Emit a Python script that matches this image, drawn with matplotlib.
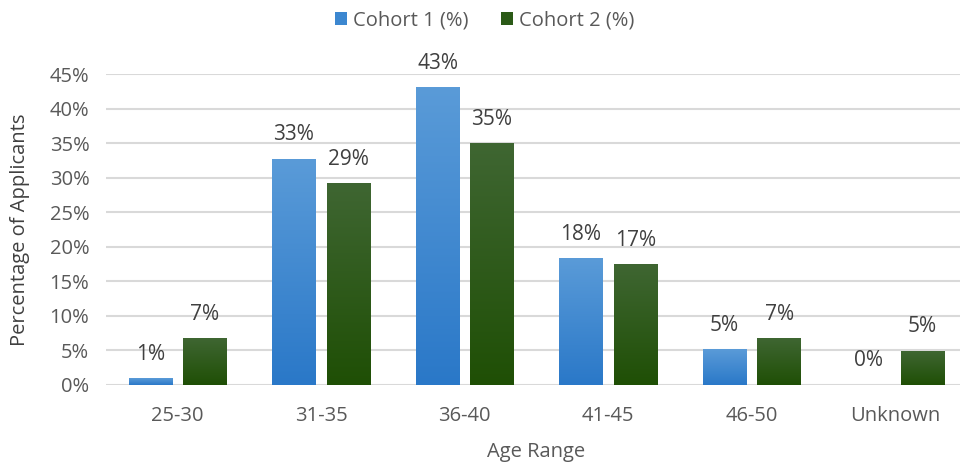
import numpy as np
import matplotlib.pyplot as plt
from matplotlib.colors import LinearSegmentedColormap
from matplotlib.patches import Patch

categories = ['25-30', '31-35', '36-40', '41-45', '46-50', 'Unknown']
cohort1 = [0.9, 32.7, 43.0, 18.3, 5.1, 0.0]
cohort2 = [6.7, 29.1, 34.9, 17.4, 6.7, 4.9]

plt.rcParams['font.family'] = ['Open Sans', 'DejaVu Sans']
text_color = '#595959'

blue_cmap = LinearSegmentedColormap.from_list('blue', ['#2a78c8', '#5a9bd8'])
green_cmap = LinearSegmentedColormap.from_list('green', ['#1f4f05', '#3f6632'])

fig = plt.figure(figsize=(9.6, 4.62), dpi=100)
ax = fig.add_axes([0.1104, 0.1667, 0.897, 0.6731])

x = np.arange(len(categories))
w = 0.306
off = 0.19
grad = np.linspace(0, 1, 256).reshape(-1, 1)

for vals, shift, cmap in [(cohort1, -off, blue_cmap), (cohort2, off, green_cmap)]:
    bars = ax.bar(x + shift, vals, width=w, color='none', edgecolor='none', zorder=3)
    for b, v in zip(bars, vals):
        if v > 0:
            x0 = b.get_x()
            ax.imshow(grad, extent=[x0, x0 + w, 0, v], origin='lower', aspect='auto',
                      cmap=cmap, zorder=3)
        ax.text(b.get_x() + w / 2, v + 3.5, f'{round(v):.0f}%', ha='center', va='center',
                fontsize=15, color='#404040')

ax.set_xlim(-0.5, len(categories) - 0.5)
ax.set_ylim(0, 45)
ax.set_yticks(np.arange(0, 46, 5))
ax.set_yticklabels([f'{t}%' for t in range(0, 46, 5)])
ax.set_xticks(x)
ax.set_xticklabels(categories)
ax.grid(axis='y', color='#d9d9d9', linewidth=1.5, zorder=0)
ax.set_axisbelow(True)
for s in ax.spines.values():
    s.set_visible(False)
ax.tick_params(length=0, labelsize=14.5, colors=text_color)
ax.tick_params(axis='x', pad=15)
ax.tick_params(axis='y', pad=12)
ax.set_ylabel('Percentage of Applicants', fontsize=14.5, color='#404040', labelpad=14)
ax.set_xlabel('Age Range', fontsize=14.5, color=text_color, labelpad=12)

handles = [Patch(facecolor='#3c87d0'), Patch(facecolor='#2b5a17')]
fig.legend(handles, ['Cohort 1 (%)', 'Cohort 2 (%)'], loc='center', ncol=2,
           bbox_to_anchor=(0.505, 0.955), frameon=False, fontsize=14.5,
           handlelength=0.6, handleheight=0.6, handletextpad=0.3, columnspacing=1.6,
           labelcolor=text_color)

plt.savefig('out.png', dpi=100)
